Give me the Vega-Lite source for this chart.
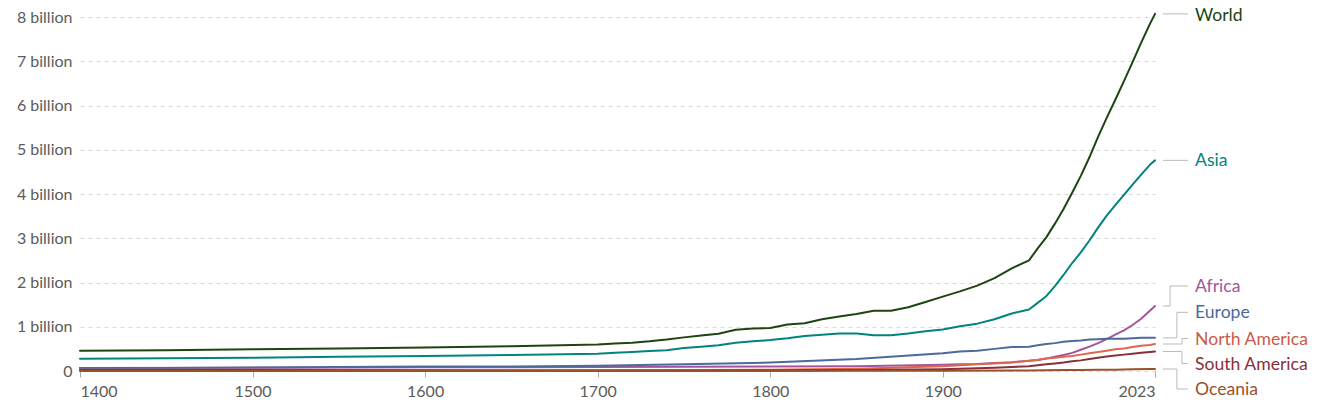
{
"$schema": "https://vega.github.io/schema/vega-lite/v6.json",
"width": 1075, "height": 354,
"autosize": {"type": "none"},
"padding": {"left": 80, "top": 17, "right": 175, "bottom": 35},
"background": "white",
"config": {"view": {"stroke": null}, "font": "Lato"},
"datasets": {"pop": [
{"series":"World","year":1400,"pop":0.457},{"series":"World","year":1450,"pop":0.47},{"series":"World","year":1500,"pop":0.49},{"series":"World","year":1550,"pop":0.51},{"series":"World","year":1600,"pop":0.53},{"series":"World","year":1650,"pop":0.56},{"series":"World","year":1700,"pop":0.60},{"series":"World","year":1710,"pop":0.62},{"series":"World","year":1720,"pop":0.64},{"series":"World","year":1730,"pop":0.67},{"series":"World","year":1740,"pop":0.71},{"series":"World","year":1750,"pop":0.76},{"series":"World","year":1760,"pop":0.80},{"series":"World","year":1770,"pop":0.84},{"series":"World","year":1780,"pop":0.93},{"series":"World","year":1790,"pop":0.96},{"series":"World","year":1800,"pop":0.97},{"series":"World","year":1810,"pop":1.05},{"series":"World","year":1820,"pop":1.08},{"series":"World","year":1830,"pop":1.17},{"series":"World","year":1840,"pop":1.23},{"series":"World","year":1850,"pop":1.29},{"series":"World","year":1860,"pop":1.36},{"series":"World","year":1870,"pop":1.36},{"series":"World","year":1880,"pop":1.44},{"series":"World","year":1890,"pop":1.56},{"series":"World","year":1900,"pop":1.68},{"series":"World","year":1910,"pop":1.80},{"series":"World","year":1920,"pop":1.93},{"series":"World","year":1930,"pop":2.10},{"series":"World","year":1940,"pop":2.32},{"series":"World","year":1950,"pop":2.50},{"series":"World","year":1955,"pop":2.77},{"series":"World","year":1960,"pop":3.02},{"series":"World","year":1965,"pop":3.33},{"series":"World","year":1970,"pop":3.66},{"series":"World","year":1975,"pop":4.03},{"series":"World","year":1980,"pop":4.41},{"series":"World","year":1985,"pop":4.83},{"series":"World","year":1990,"pop":5.29},{"series":"World","year":1995,"pop":5.72},{"series":"World","year":2000,"pop":6.13},{"series":"World","year":2005,"pop":6.55},{"series":"World","year":2010,"pop":6.98},{"series":"World","year":2015,"pop":7.42},{"series":"World","year":2020,"pop":7.84},{"series":"World","year":2023,"pop":8.07},
{"series":"Asia","year":1400,"pop":0.276},{"series":"Asia","year":1450,"pop":0.29},{"series":"Asia","year":1500,"pop":0.30},{"series":"Asia","year":1550,"pop":0.32},{"series":"Asia","year":1600,"pop":0.34},{"series":"Asia","year":1650,"pop":0.36},{"series":"Asia","year":1700,"pop":0.39},{"series":"Asia","year":1710,"pop":0.41},{"series":"Asia","year":1720,"pop":0.43},{"series":"Asia","year":1730,"pop":0.45},{"series":"Asia","year":1740,"pop":0.47},{"series":"Asia","year":1750,"pop":0.52},{"series":"Asia","year":1760,"pop":0.55},{"series":"Asia","year":1770,"pop":0.58},{"series":"Asia","year":1780,"pop":0.64},{"series":"Asia","year":1790,"pop":0.67},{"series":"Asia","year":1800,"pop":0.70},{"series":"Asia","year":1810,"pop":0.74},{"series":"Asia","year":1820,"pop":0.79},{"series":"Asia","year":1830,"pop":0.82},{"series":"Asia","year":1840,"pop":0.85},{"series":"Asia","year":1850,"pop":0.85},{"series":"Asia","year":1860,"pop":0.81},{"series":"Asia","year":1870,"pop":0.81},{"series":"Asia","year":1880,"pop":0.85},{"series":"Asia","year":1890,"pop":0.90},{"series":"Asia","year":1900,"pop":0.94},{"series":"Asia","year":1910,"pop":1.01},{"series":"Asia","year":1920,"pop":1.07},{"series":"Asia","year":1930,"pop":1.17},{"series":"Asia","year":1940,"pop":1.30},{"series":"Asia","year":1950,"pop":1.39},{"series":"Asia","year":1955,"pop":1.54},{"series":"Asia","year":1960,"pop":1.69},{"series":"Asia","year":1965,"pop":1.92},{"series":"Asia","year":1970,"pop":2.17},{"series":"Asia","year":1975,"pop":2.44},{"series":"Asia","year":1980,"pop":2.68},{"series":"Asia","year":1985,"pop":2.95},{"series":"Asia","year":1990,"pop":3.24},{"series":"Asia","year":1995,"pop":3.51},{"series":"Asia","year":2000,"pop":3.75},{"series":"Asia","year":2005,"pop":3.98},{"series":"Asia","year":2010,"pop":4.21},{"series":"Asia","year":2015,"pop":4.44},{"series":"Asia","year":2020,"pop":4.66},{"series":"Asia","year":2023,"pop":4.76},
{"series":"Africa","year":1400,"pop":0.065},{"series":"Africa","year":1500,"pop":0.075},{"series":"Africa","year":1600,"pop":0.085},{"series":"Africa","year":1700,"pop":0.09},{"series":"Africa","year":1750,"pop":0.095},{"series":"Africa","year":1800,"pop":0.10},{"series":"Africa","year":1850,"pop":0.11},{"series":"Africa","year":1900,"pop":0.14},{"series":"Africa","year":1910,"pop":0.15},{"series":"Africa","year":1920,"pop":0.16},{"series":"Africa","year":1930,"pop":0.18},{"series":"Africa","year":1940,"pop":0.20},{"series":"Africa","year":1950,"pop":0.23},{"series":"Africa","year":1955,"pop":0.25},{"series":"Africa","year":1960,"pop":0.28},{"series":"Africa","year":1965,"pop":0.32},{"series":"Africa","year":1970,"pop":0.36},{"series":"Africa","year":1975,"pop":0.41},{"series":"Africa","year":1980,"pop":0.48},{"series":"Africa","year":1985,"pop":0.55},{"series":"Africa","year":1990,"pop":0.63},{"series":"Africa","year":1995,"pop":0.72},{"series":"Africa","year":2000,"pop":0.82},{"series":"Africa","year":2005,"pop":0.92},{"series":"Africa","year":2010,"pop":1.04},{"series":"Africa","year":2015,"pop":1.18},{"series":"Africa","year":2020,"pop":1.36},{"series":"Africa","year":2023,"pop":1.47},
{"series":"Europe","year":1400,"pop":0.07},{"series":"Europe","year":1450,"pop":0.07},{"series":"Europe","year":1500,"pop":0.08},{"series":"Europe","year":1550,"pop":0.09},{"series":"Europe","year":1600,"pop":0.10},{"series":"Europe","year":1650,"pop":0.10},{"series":"Europe","year":1700,"pop":0.12},{"series":"Europe","year":1750,"pop":0.15},{"series":"Europe","year":1800,"pop":0.19},{"series":"Europe","year":1850,"pop":0.27},{"series":"Europe","year":1900,"pop":0.40},{"series":"Europe","year":1910,"pop":0.44},{"series":"Europe","year":1920,"pop":0.46},{"series":"Europe","year":1930,"pop":0.50},{"series":"Europe","year":1940,"pop":0.54},{"series":"Europe","year":1950,"pop":0.55},{"series":"Europe","year":1955,"pop":0.58},{"series":"Europe","year":1960,"pop":0.61},{"series":"Europe","year":1965,"pop":0.63},{"series":"Europe","year":1970,"pop":0.66},{"series":"Europe","year":1975,"pop":0.68},{"series":"Europe","year":1980,"pop":0.69},{"series":"Europe","year":1985,"pop":0.71},{"series":"Europe","year":1990,"pop":0.72},{"series":"Europe","year":1995,"pop":0.73},{"series":"Europe","year":2000,"pop":0.73},{"series":"Europe","year":2005,"pop":0.73},{"series":"Europe","year":2010,"pop":0.74},{"series":"Europe","year":2015,"pop":0.75},{"series":"Europe","year":2020,"pop":0.75},{"series":"Europe","year":2023,"pop":0.75},
{"series":"North America","year":1400,"pop":0.03},{"series":"North America","year":1500,"pop":0.03},{"series":"North America","year":1600,"pop":0.02},{"series":"North America","year":1700,"pop":0.015},{"series":"North America","year":1750,"pop":0.02},{"series":"North America","year":1800,"pop":0.03},{"series":"North America","year":1850,"pop":0.05},{"series":"North America","year":1900,"pop":0.11},{"series":"North America","year":1910,"pop":0.13},{"series":"North America","year":1920,"pop":0.15},{"series":"North America","year":1930,"pop":0.17},{"series":"North America","year":1940,"pop":0.19},{"series":"North America","year":1950,"pop":0.23},{"series":"North America","year":1955,"pop":0.25},{"series":"North America","year":1960,"pop":0.28},{"series":"North America","year":1965,"pop":0.30},{"series":"North America","year":1970,"pop":0.32},{"series":"North America","year":1975,"pop":0.34},{"series":"North America","year":1980,"pop":0.37},{"series":"North America","year":1985,"pop":0.40},{"series":"North America","year":1990,"pop":0.43},{"series":"North America","year":1995,"pop":0.46},{"series":"North America","year":2000,"pop":0.49},{"series":"North America","year":2005,"pop":0.51},{"series":"North America","year":2010,"pop":0.54},{"series":"North America","year":2015,"pop":0.57},{"series":"North America","year":2020,"pop":0.59},{"series":"North America","year":2023,"pop":0.61},
{"series":"South America","year":1400,"pop":0.02},{"series":"South America","year":1500,"pop":0.02},{"series":"South America","year":1600,"pop":0.012},{"series":"South America","year":1700,"pop":0.01},{"series":"South America","year":1750,"pop":0.012},{"series":"South America","year":1800,"pop":0.015},{"series":"South America","year":1850,"pop":0.025},{"series":"South America","year":1900,"pop":0.04},{"series":"South America","year":1910,"pop":0.05},{"series":"South America","year":1920,"pop":0.06},{"series":"South America","year":1930,"pop":0.075},{"series":"South America","year":1940,"pop":0.09},{"series":"South America","year":1950,"pop":0.11},{"series":"South America","year":1955,"pop":0.13},{"series":"South America","year":1960,"pop":0.15},{"series":"South America","year":1965,"pop":0.17},{"series":"South America","year":1970,"pop":0.19},{"series":"South America","year":1975,"pop":0.22},{"series":"South America","year":1980,"pop":0.24},{"series":"South America","year":1985,"pop":0.27},{"series":"South America","year":1990,"pop":0.30},{"series":"South America","year":1995,"pop":0.33},{"series":"South America","year":2000,"pop":0.35},{"series":"South America","year":2005,"pop":0.37},{"series":"South America","year":2010,"pop":0.39},{"series":"South America","year":2015,"pop":0.41},{"series":"South America","year":2020,"pop":0.43},{"series":"South America","year":2023,"pop":0.44},
{"series":"Oceania","year":1400,"pop":0.002},{"series":"Oceania","year":1500,"pop":0.002},{"series":"Oceania","year":1600,"pop":0.002},{"series":"Oceania","year":1700,"pop":0.002},{"series":"Oceania","year":1800,"pop":0.002},{"series":"Oceania","year":1850,"pop":0.003},{"series":"Oceania","year":1900,"pop":0.006},{"series":"Oceania","year":1950,"pop":0.013},{"series":"Oceania","year":1960,"pop":0.016},{"series":"Oceania","year":1970,"pop":0.02},{"series":"Oceania","year":1980,"pop":0.023},{"series":"Oceania","year":1990,"pop":0.027},{"series":"Oceania","year":2000,"pop":0.031},{"series":"Oceania","year":2010,"pop":0.037},{"series":"Oceania","year":2020,"pop":0.043},{"series":"Oceania","year":2023,"pop":0.045}
]},
"data": {"name": "pop"},
"layer": [
{"mark": {"type": "line", "strokeWidth": 2, "strokeJoin": "round", "strokeCap": "round"},
 "encoding": {
  "x": {"field": "year", "type": "quantitative",
        "scale": {"domain": [1400, 2023], "nice": false, "zero": false},
        "axis": {"title": null, "values": [1400,1500,1600,1700,1800,1900,2023], "format": "d", "labelFlush": true,
                 "domain": false, "grid": false, "ticks": true, "tickSize": 6, "tickColor": "#aaa",
                 "labelFont": "Lato", "labelFontSize": 16, "labelColor": "#5b5b5b", "labelPadding": 6}},
  "y": {"field": "pop", "type": "quantitative",
        "scale": {"domain": [0, 8], "nice": false},
        "axis": {"title": null, "values": [0,1,2,3,4,5,6,7,8], "labelExpr": "datum.value == 0 ? '0' : datum.value + ' billion'",
                 "domain": false, "ticks": false, "grid": true, "gridDash": [4, 4], "gridColor": "#d9d9d9",
                 "labelFont": "Lato", "labelFontSize": 16, "labelColor": "#5b5b5b", "labelPadding": 8}},
  "color": {"field": "series", "type": "nominal", "legend": null,
            "scale": {"domain": ["World","Asia","Africa","Europe","North America","South America","Oceania"],
                      "range": ["#1d4511","#00847e","#a2559c","#4c6a9c","#e0654f","#883039","#9a5129"]}},
  "order": {"field": "year", "type": "quantitative"}
 }},
{"transform": [{"filter": "datum.year == 2023 && datum.series == 'World'"}],
 "layer": [
  {"mark": {"type": "text", "align": "left", "baseline": "middle", "dx": 40, "dy": 2, "fontSize": 17.6, "font": "Lato", "color": "#1d4511"},
   "encoding": {"x": {"field": "year", "type": "quantitative"}, "y": {"field": "pop", "type": "quantitative"}, "text": {"field": "series"}}},
  {"mark": {"type": "rule", "color": "#bbb", "strokeWidth": 1},
   "encoding": {"x": {"datum": 2027.6, "type": "quantitative"}, "x2": {"datum": 2042.1}, "y": {"field": "pop", "type": "quantitative"}}}
 ]},
{"transform": [{"filter": "datum.year == 2023 && datum.series == 'Asia'"}],
 "layer": [
  {"mark": {"type": "text", "align": "left", "baseline": "middle", "dx": 40, "dy": 1, "fontSize": 17.6, "font": "Lato", "color": "#00847e"},
   "encoding": {"x": {"field": "year", "type": "quantitative"}, "y": {"field": "pop", "type": "quantitative"}, "text": {"field": "series"}}},
  {"mark": {"type": "rule", "color": "#bbb", "strokeWidth": 1},
   "encoding": {"x": {"datum": 2027.6, "type": "quantitative"}, "x2": {"datum": 2042.1}, "y": {"field": "pop", "type": "quantitative"}}}
 ]},
{"transform": [{"filter": "datum.year == 2023 && datum.series == 'Africa'"}],
 "layer": [
  {"mark": {"type": "text", "align": "left", "baseline": "middle", "dx": 40, "dy": -19, "fontSize": 17.6, "font": "Lato", "color": "#a2559c"},
   "encoding": {"x": {"field": "year", "type": "quantitative"}, "y": {"field": "pop", "type": "quantitative"}, "text": {"field": "series"}}},
  {"mark": {"type": "rule", "color": "#bbb", "strokeWidth": 1},
   "encoding": {"x": {"datum": 2027.6, "type": "quantitative"}, "x2": {"datum": 2031.7}, "y": {"field": "pop", "type": "quantitative"}}},
  {"mark": {"type": "rule", "color": "#bbb", "strokeWidth": 1, "y2Offset": -20},
   "encoding": {"x": {"datum": 2031.7, "type": "quantitative"}, "y": {"field": "pop", "type": "quantitative"}, "y2": {"field": "pop"}}},
  {"mark": {"type": "rule", "color": "#bbb", "strokeWidth": 1, "yOffset": -20},
   "encoding": {"x": {"datum": 2031.7, "type": "quantitative"}, "x2": {"datum": 2042.1}, "y": {"field": "pop", "type": "quantitative"}}}
 ]},
{"transform": [{"filter": "datum.year == 2023 && datum.series == 'Europe'"}],
 "layer": [
  {"mark": {"type": "text", "align": "left", "baseline": "middle", "dx": 40, "dy": -24.5, "fontSize": 17.6, "font": "Lato", "color": "#4c6a9c"},
   "encoding": {"x": {"field": "year", "type": "quantitative"}, "y": {"field": "pop", "type": "quantitative"}, "text": {"field": "series"}}},
  {"mark": {"type": "rule", "color": "#bbb", "strokeWidth": 1},
   "encoding": {"x": {"datum": 2027.6, "type": "quantitative"}, "x2": {"datum": 2035.7}, "y": {"field": "pop", "type": "quantitative"}}},
  {"mark": {"type": "rule", "color": "#bbb", "strokeWidth": 1, "y2Offset": -25.5},
   "encoding": {"x": {"datum": 2035.7, "type": "quantitative"}, "y": {"field": "pop", "type": "quantitative"}, "y2": {"field": "pop"}}},
  {"mark": {"type": "rule", "color": "#bbb", "strokeWidth": 1, "yOffset": -25.5},
   "encoding": {"x": {"datum": 2035.7, "type": "quantitative"}, "x2": {"datum": 2042.1}, "y": {"field": "pop", "type": "quantitative"}}}
 ]},
{"transform": [{"filter": "datum.year == 2023 && datum.series == 'North America'"}],
 "layer": [
  {"mark": {"type": "text", "align": "left", "baseline": "middle", "dx": 40, "dy": -4.5, "fontSize": 17.6, "font": "Lato", "color": "#c95c47"},
   "encoding": {"x": {"field": "year", "type": "quantitative"}, "y": {"field": "pop", "type": "quantitative"}, "text": {"field": "series"}}},
  {"mark": {"type": "rule", "color": "#bbb", "strokeWidth": 1},
   "encoding": {"x": {"datum": 2027.6, "type": "quantitative"}, "x2": {"datum": 2038.6}, "y": {"field": "pop", "type": "quantitative"}}},
  {"mark": {"type": "rule", "color": "#bbb", "strokeWidth": 1, "y2Offset": -5.5},
   "encoding": {"x": {"datum": 2038.6, "type": "quantitative"}, "y": {"field": "pop", "type": "quantitative"}, "y2": {"field": "pop"}}},
  {"mark": {"type": "rule", "color": "#bbb", "strokeWidth": 1, "yOffset": -5.5},
   "encoding": {"x": {"datum": 2038.6, "type": "quantitative"}, "x2": {"datum": 2042.1}, "y": {"field": "pop", "type": "quantitative"}}}
 ]},
{"transform": [{"filter": "datum.year == 2023 && datum.series == 'South America'"}],
 "layer": [
  {"mark": {"type": "text", "align": "left", "baseline": "middle", "dx": 40, "dy": 13, "fontSize": 17.6, "font": "Lato", "color": "#883039"},
   "encoding": {"x": {"field": "year", "type": "quantitative"}, "y": {"field": "pop", "type": "quantitative"}, "text": {"field": "series"}}},
  {"mark": {"type": "rule", "color": "#bbb", "strokeWidth": 1},
   "encoding": {"x": {"datum": 2027.6, "type": "quantitative"}, "x2": {"datum": 2038.6}, "y": {"field": "pop", "type": "quantitative"}}},
  {"mark": {"type": "rule", "color": "#bbb", "strokeWidth": 1, "y2Offset": 12},
   "encoding": {"x": {"datum": 2038.6, "type": "quantitative"}, "y": {"field": "pop", "type": "quantitative"}, "y2": {"field": "pop"}}},
  {"mark": {"type": "rule", "color": "#bbb", "strokeWidth": 1, "yOffset": 12},
   "encoding": {"x": {"datum": 2038.6, "type": "quantitative"}, "x2": {"datum": 2042.1}, "y": {"field": "pop", "type": "quantitative"}}}
 ]},
{"transform": [{"filter": "datum.year == 2023 && datum.series == 'Oceania'"}],
 "layer": [
  {"mark": {"type": "text", "align": "left", "baseline": "middle", "dx": 40, "dy": 21, "fontSize": 17.6, "font": "Lato", "color": "#9a5129"},
   "encoding": {"x": {"field": "year", "type": "quantitative"}, "y": {"field": "pop", "type": "quantitative"}, "text": {"field": "series"}}},
  {"mark": {"type": "rule", "color": "#bbb", "strokeWidth": 1},
   "encoding": {"x": {"datum": 2027.6, "type": "quantitative"}, "x2": {"datum": 2035.7}, "y": {"field": "pop", "type": "quantitative"}}},
  {"mark": {"type": "rule", "color": "#bbb", "strokeWidth": 1, "y2Offset": 20},
   "encoding": {"x": {"datum": 2035.7, "type": "quantitative"}, "y": {"field": "pop", "type": "quantitative"}, "y2": {"field": "pop"}}},
  {"mark": {"type": "rule", "color": "#bbb", "strokeWidth": 1, "yOffset": 20},
   "encoding": {"x": {"datum": 2035.7, "type": "quantitative"}, "x2": {"datum": 2042.1}, "y": {"field": "pop", "type": "quantitative"}}}
 ]}
]
}
